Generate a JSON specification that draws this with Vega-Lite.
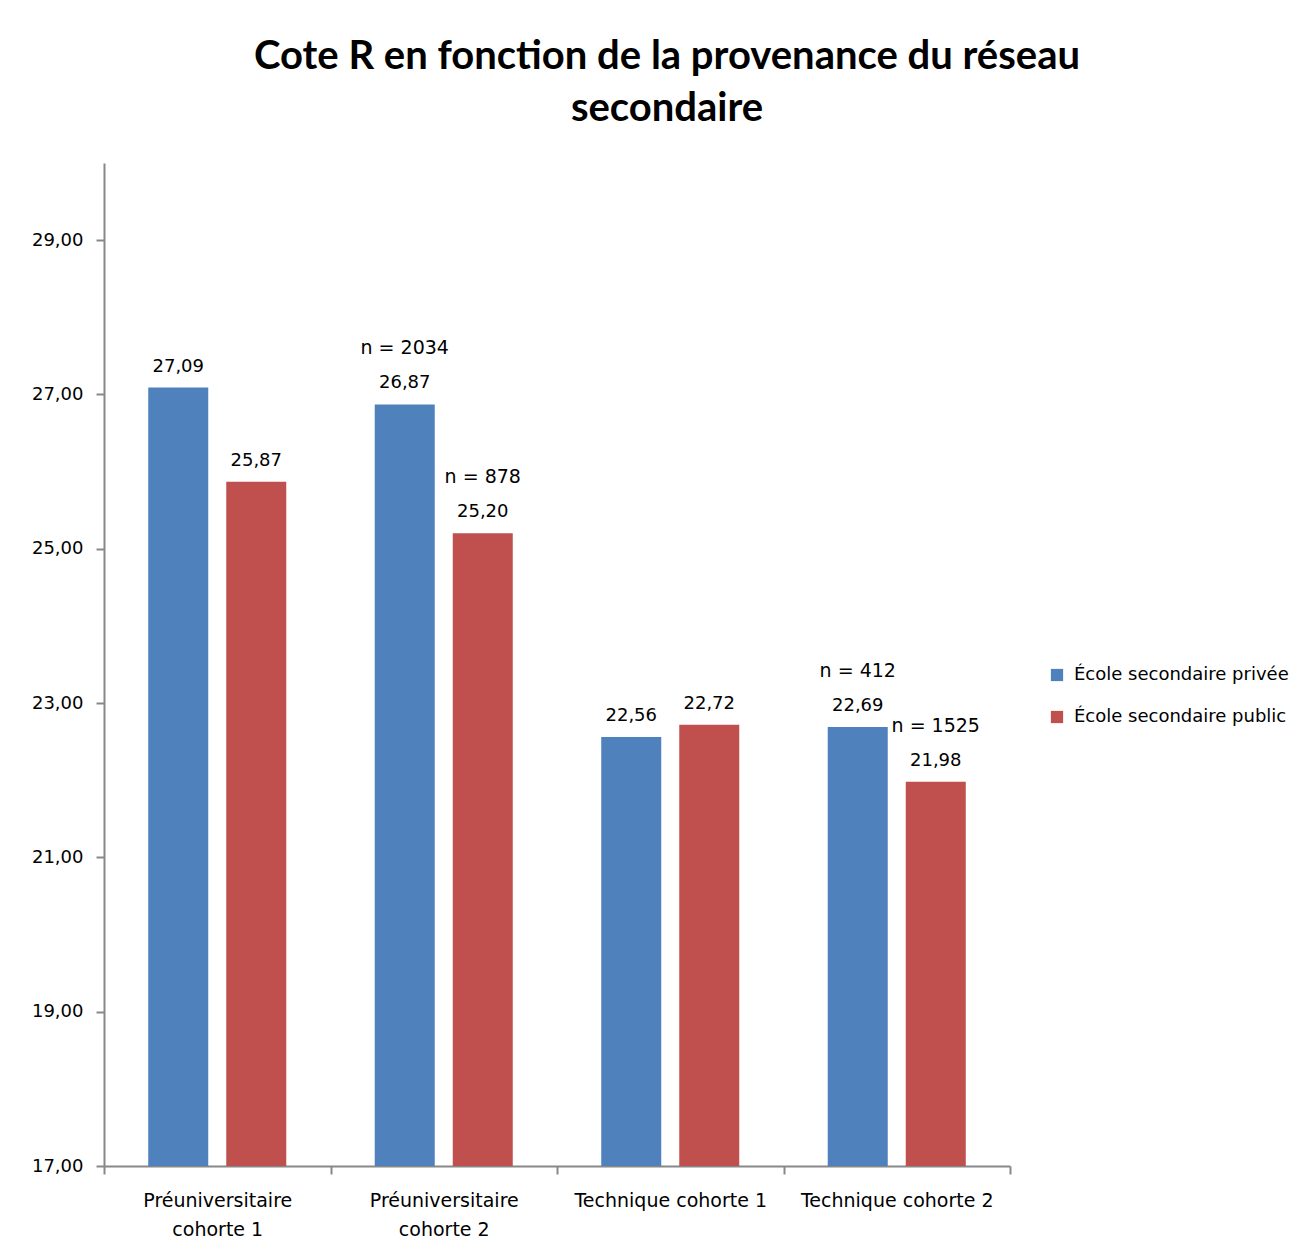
{
  "$schema": "https://vega.github.io/schema/vega-lite/v6.json",
  "autosize": "none",
  "width": 906,
  "height": 1003,
  "padding": {"left": 104, "top": 163, "right": 305, "bottom": 85},
  "background": "white",
  "title": {
    "text": ["Cote R en fonction de la provenance du réseau", "secondaire"],
    "font": "Lato",
    "fontSize": 40,
    "fontWeight": "bold",
    "color": "#000000",
    "lineHeight": 52,
    "anchor": "middle",
    "dx": 110,
    "offset": 34
  },
  "data": {
    "values": [
      {"cat": "Préuniversitaire|cohorte 1", "type": "École secondaire privée", "value": 27.09, "n": null},
      {"cat": "Préuniversitaire|cohorte 1", "type": "École secondaire public", "value": 25.87, "n": null},
      {"cat": "Préuniversitaire|cohorte 2", "type": "École secondaire privée", "value": 26.87, "n": "n = 2034"},
      {"cat": "Préuniversitaire|cohorte 2", "type": "École secondaire public", "value": 25.20, "n": "n = 878"},
      {"cat": "Technique cohorte 1", "type": "École secondaire privée", "value": 22.56, "n": null},
      {"cat": "Technique cohorte 1", "type": "École secondaire public", "value": 22.72, "n": null},
      {"cat": "Technique cohorte 2", "type": "École secondaire privée", "value": 22.69, "n": "n = 412"},
      {"cat": "Technique cohorte 2", "type": "École secondaire public", "value": 21.98, "n": "n = 1525"}
    ]
  },
  "encoding": {
    "x": {
      "field": "cat", "type": "nominal", "sort": null, "title": null,
      "scale": {"paddingInner": 0, "paddingOuter": 0},
      "axis": {
        "labelExpr": "isValid(datum.value) ? split(datum.value, '|') : ''",
        "labelAngle": 0,
        "labelFont": "DejaVu Sans",
        "labelFontSize": 19,
        "labelLimit": 300,
        "labelColor": "#000000",
        "labelLineHeight": 29,
        "labelPadding": 17,
        "tickBand": "extent",
        "tickSize": 8,
        "tickColor": "#888888",
        "domainColor": "#888888",
        "domainWidth": 2,
        "tickWidth": 2
      }
    },
    "xOffset": {
      "field": "type", "type": "nominal",
      "scale": {"paddingInner": 0.2308, "paddingOuter": 0.567}
    },
    "y": {
      "field": "value", "type": "quantitative", "title": null,
      "scale": {"domain": [17, 30], "zero": false, "nice": false},
      "axis": {
        "values": [17, 19, 21, 23, 25, 27, 29],
        "format": ".2f",
        "grid": false,
        "labelFont": "DejaVu Sans",
        "labelFontSize": 18,
        "labelColor": "#000000",
        "labelPadding": 13,
        "tickSize": 8,
        "tickColor": "#888888",
        "domainColor": "#888888",
        "domainWidth": 2,
        "tickWidth": 2
      }
    }
  },
  "layer": [
    {
      "mark": {"type": "bar"},
      "encoding": {
        "y2": {"datum": 17},
        "color": {
          "field": "type", "type": "nominal",
          "scale": {"domain": ["École secondaire privée", "École secondaire public"], "range": ["#4F81BD", "#C0504D"]},
          "legend": {
            "title": null,
            "orient": "none",
            "legendX": 944,
            "legendY": 503,
            "symbolType": "square",
            "symbolSize": 150,
            "symbolStrokeWidth": 0,
            "labelFont": "DejaVu Sans",
            "labelFontSize": 18,
            "labelLimit": 0,
            "labelColor": "#000000",
            "rowPadding": 24,
            "labelOffset": 8
          }
        }
      }
    },
    {
      "mark": {"type": "text", "baseline": "bottom", "dy": -12, "font": "DejaVu Sans", "fontSize": 18, "color": "#000000"},
      "encoding": {
        "text": {"field": "value", "type": "quantitative", "format": ".2f"}
      }
    },
    {
      "transform": [{"filter": "datum.n != null"}],
      "mark": {"type": "text", "baseline": "bottom", "dy": -46, "font": "DejaVu Sans", "fontSize": 19, "color": "#000000"},
      "encoding": {
        "text": {"field": "n", "type": "nominal"}
      }
    }
  ],
  "config": {
    "view": {"stroke": null},
    "locale": {"number": {"decimal": ",", "thousands": " ", "grouping": [3], "currency": ["", " €"]}}
  }
}
